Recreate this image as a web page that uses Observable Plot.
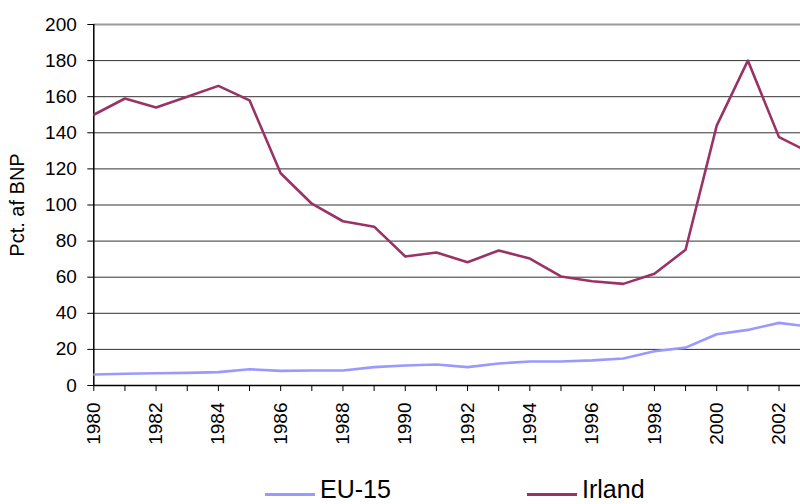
<!DOCTYPE html>
<html>
<head>
<meta charset="utf-8">
<script src="https://cdn.jsdelivr.net/npm/d3@7"></script>
<script src="https://cdn.jsdelivr.net/npm/@observablehq/plot@0.6"></script>
<style>
  body { margin: 0; background: #fff; font-family: "Liberation Sans", Arial, sans-serif; }
  #legend { position: relative; width: 800px; height: 44px; }
  .item { position: absolute; top: 14px; display: flex; align-items: center; font-size: 25px; color: #000; line-height: 30px; }
  .sw { display: inline-block; width: 50px; height: 3px; margin-right: 5px; margin-top: 10px; }
</style>
</head>
<body>
<div id="chart"></div>
<div id="legend">
  <div class="item" style="left:265px"><span class="sw" style="background:#9999FF"></span>EU-15</div>
  <div class="item" style="left:527px"><span class="sw" style="background:#993366"></span>Irland</div>
</div>
<script>
const years = [1980,1981,1982,1983,1984,1985,1986,1987,1988,1989,1990,1991,1992,1993,1994,1995,1996,1997,1998,1999,2000,2001,2002,2003];
const irland = [150,159,154,160,166,158,117.6,100.7,91,88,71.5,73.7,68.3,74.8,70.3,60.4,57.8,56.3,61.9,75.2,144,180,137.6,129];
const eu15 = [6.1,6.5,6.8,7.0,7.4,9.0,8.1,8.3,8.3,10.2,11.1,11.6,10.2,12.2,13.3,13.3,13.9,15,19,21,28.4,30.8,34.7,32.5];
const labelYears = [1980,1982,1984,1986,1988,1990,1992,1994,1996,1998,2000,2002];
const yTicks = [0,20,40,60,80,100,120,140,160,180,200];

const rows = [];
years.forEach((yr, i) => {
  rows.push({year: yr, value: eu15[i], series: "EU-15"});
  rows.push({year: yr, value: irland[i], series: "Irland"});
});

const chart = Plot.plot({
  width: 800,
  height: 460,
  marginLeft: 93.3,
  marginRight: 0,
  marginTop: 24,
  marginBottom: 75,
  style: {fontFamily: "'Liberation Sans', Arial, sans-serif", fontSize: "19px", color: "#000", background: "#fff"},
  x: {domain: [1980, 2002.69]},
  y: {domain: [0, 200]},
  color: {domain: ["EU-15", "Irland"], range: ["#9999FF", "#993366"]},
  marks: [
    Plot.ruleY(yTicks.filter(d => d > 0 && d < 200), {stroke: "#333", strokeWidth: 1, strokeOpacity: 1}),
    Plot.ruleY([200], {stroke: "#999", strokeWidth: 2, strokeOpacity: 1}),
    Plot.axisY({ticks: yTicks, tickSize: 6, tickPadding: 11, tickFormat: d => String(d), label: null, stroke: "#000", fontSize: 19}),
    Plot.axisX({ticks: years.slice(0, 23), tickSize: 6, tickFormat: () => "", label: null, stroke: "#000"}),
    Plot.axisX({ticks: labelYears, tickSize: 0, tickPadding: 17, tickRotate: -90, tickFormat: d => String(d), label: null, fontSize: 19}),
    Plot.ruleY([0], {stroke: "#000", strokeWidth: 1.5}),
    Plot.ruleX([1980], {stroke: "#000", strokeWidth: 1.5}),
    Plot.line(rows, {x: "year", y: "value", z: "series", stroke: "series", strokeWidth: 2.6, clip: true}),
    Plot.text(["Pct. af BNP"], {frameAnchor: "left", text: d => d, rotate: -90, dx: -76, textAnchor: "middle", fontSize: 20, fill: "#000"})
  ]
});
document.getElementById("chart").appendChild(chart);
</script>
</body>
</html>
